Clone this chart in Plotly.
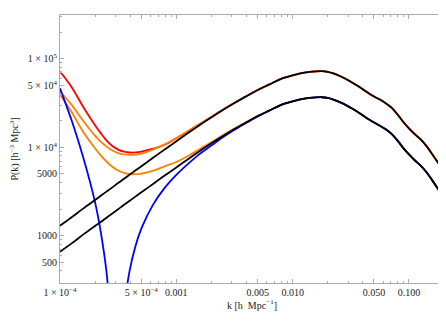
import math
import plotly.graph_objects as go

# wavenumber grid, k [h/Mpc]
K = [1.00e-4, 1.26e-4, 1.58e-4, 2.00e-4, 2.24e-4, 2.51e-4, 2.82e-4, 3.16e-4, 3.55e-4, 3.98e-4,
     4.47e-4, 5.01e-4, 6.31e-4, 7.94e-4, 1.00e-3, 1.26e-3, 1.58e-3, 2.00e-3, 2.51e-3, 3.16e-3,
     3.98e-3, 5.01e-3, 6.31e-3, 7.94e-3, 0.0100, 0.0126, 0.0158, 0.0178, 0.0200, 0.0224,
     0.0251, 0.0282, 0.0316, 0.0355, 0.0398, 0.0447, 0.0501, 0.0562, 0.0631, 0.0708,
     0.0794, 0.0891, 0.100, 0.112, 0.126, 0.141, 0.158, 0.178, 0.200]

P_black_hi = [1300, 1620, 2030, 2540, 2830, 3160, 3530, 3950, 4410, 4920,
              5500, 6120, 7620, 9460, 11700, 14500, 17800, 21800, 26400, 31700,
              37700, 44500, 51500, 59600, 65300, 70000, 72400, 72800, 71400, 68500,
              64600, 60000, 55200, 50400, 45700, 41200, 37600, 34700, 31600, 28100,
              23700, 19500, 16400, 14100, 12300, 10400, 8410, 6680, 5250]

P_black_lo = [660, 820, 1030, 1290, 1430, 1600, 1790, 2000, 2240, 2490,
              2790, 3100, 3860, 4800, 5930, 7350, 9020, 11100, 13400, 16100,
              19100, 22600, 26100, 30200, 33100, 35500, 36700, 36900, 36200, 34700,
              32700, 30400, 28000, 25600, 23200, 20900, 19100, 17600, 16000, 14200,
              12000, 9880, 8310, 7150, 6230, 5270, 4260, 3380, 2660]

P_red = [71800, 47900, 28800, 17800, 14500, 12000, 10350, 9440, 8950, 8750,
         8770, 8970, 9660, 10700, 12700, 15200, 18300, 22100, 26700, 31800,
         37800, 44500, 51500, 59600, 65300, 70000, 72400, 72800, 71400, 68500,
         64600, 60000, 55200, 50400, 45700, 41200, 37600, 34700, 31600, 28100,
         23700, 19500, 16400, 14100, 12300, 10400, 8410, 6680, 5250]

P_orange_hi = [42800, 30200, 20000, 13600, 11600, 10200, 9230, 8610, 8320, 8220,
               8280, 8510, 9440, 10800, 12700, 15300, 18400, 22200, 26800, 32000,
               37900, 44500, 51500, 59600, 65300, 70000, 72400, 72800, 71400, 68500,
               64600, 60000, 55200, 50400, 45700, 41200, 37600, 34700, 31600, 28100,
               23700, 19500, 16400, 14100, 12300, 10400, 8410, 6680, 5250]

P_orange_lo = [39200, 25100, 15000, 9770, 8130, 6920, 6030, 5470, 5150, 4990,
               4970, 5050, 5430, 6100, 6840, 7980, 9530, 11400, 13700, 16300,
               19300, 22600, 26100, 30200, 33100, 35500, 36700, 36900, 36200, 34700,
               32700, 30400, 28000, 25600, 23200, 20900, 19100, 17600, 16000, 14200,
               12000, 9880, 8310, 7150, 6230, 5270, 4260, 3380, 2660]

P_blue = [46500, 20100, 7780, 2400, 1110, 390, 62, 6.8, 142, 411,
          776, 1210, 2250, 3480, 4880, 6500, 8380, 10500, 13000, 15800,
          18900, 22400, 26000, 30100, 33100, 35500, 36700, 36900, 36200, 34700,
          32700, 30400, 28000, 25600, 23200, 20900, 19100, 17600, 16000, 14200,
          12000, 9880, 8310, 7150, 6230, 5270, 4260, 3380, 2660]

X_TICKS = [1e-4, 5e-4, 1e-3, 5e-3, 1e-2, 5e-2, 1e-1]
X_TEXT = ["1 × 10<sup>−4</sup>", "5 × 10<sup>−4</sup>", "0.001", "0.005", "0.010", "0.050", "0.100"]
Y_TICKS = [500, 1000, 5000, 1e4, 5e4, 1e5]
Y_TEXT = ["500", "1000", "5000", "1 × 10<sup>4</sup>", "5 × 10<sup>4</sup>", "1 × 10<sup>5</sup>"]

x_minor = [m * 10 ** e for e in range(-4, 0) for m in (2, 3, 4, 6, 7, 8, 9)] + [0.2]
y_minor = [m * 10 ** e for e in range(2, 6) for m in (2, 3, 4, 6, 7, 8, 9)]

series = [
    (P_red, "#ff0000"),
    (P_orange_hi, "#ff8000"),
    (P_orange_lo, "#ff8000"),
    (P_blue, "#0000ff"),
    (P_black_hi, "#000000"),
    (P_black_lo, "#000000"),
]

fig = go.Figure()
for vals, col in series:
    fig.add_trace(go.Scatter(x=K, y=vals, mode="lines",
                             line=dict(color=col, width=1.8, shape="spline"),
                             showlegend=False))

FONT = "Liberation Serif"
axis_common = dict(
    type="log", showgrid=False, zeroline=False,
    showline=True, linecolor="#aaaaaa", linewidth=1, mirror="allticks",
    ticks="inside", ticklen=4, tickcolor="#aaaaaa",
    tickmode="array", tickfont=dict(family=FONT, size=10, color="#222"),
)

fig.update_xaxes(**axis_common, range=[-4, math.log10(0.2)],
                 tickvals=X_TICKS, ticktext=X_TEXT,
                 minor=dict(tickvals=x_minor, ticks="inside", ticklen=2,
                            tickcolor="#aaaaaa", showgrid=False),
                 title=dict(text="k [h  Mpc<sup>−1</sup>]", font=dict(family=FONT, size=10, color="#222"),
                            standoff=4))
fig.update_yaxes(**axis_common, range=[2.466, 5.497],
                 tickvals=Y_TICKS, ticktext=Y_TEXT,
                 minor=dict(tickvals=y_minor, ticks="inside", ticklen=2,
                            tickcolor="#aaaaaa", showgrid=False),
                 title=dict(text="P(k) [h<sup>−3</sup> Mpc<sup>3</sup>]", font=dict(family=FONT, size=10, color="#222"),
                            standoff=8))

# page body keeps an 8px margin, so the figure is shrunk by that much
fig.update_layout(
    width=438, height=313,
    paper_bgcolor="white", plot_bgcolor="white",
    margin=dict(l=52, r=2, t=7, b=38),
    font=dict(family=FONT),
)

fig.write_html("out.html")
